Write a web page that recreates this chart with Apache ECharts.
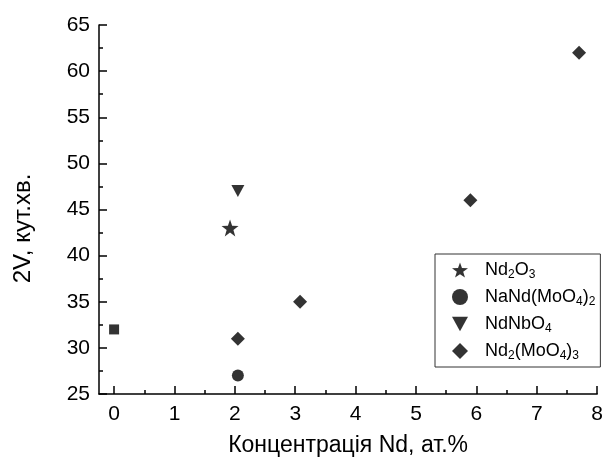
<!DOCTYPE html>
<html>
<head>
<meta charset="utf-8">
<script src="https://cdn.jsdelivr.net/npm/echarts@6/dist/echarts.min.js"></script>
<style>
  html, body { margin: 0; padding: 0; background: #fff; }
  #chart { width: 606px; height: 466px; }
</style>
</head>
<body>
<div id="chart"></div>
<script>
// точки, зчитані з рисунку: [концентрація Nd, ат.%; 2V, кут.хв.]
var pureData = [[0, 32]];
var nd2o3Data = [[1.92, 43]];
var naNdMoData = [[2.05, 27]];
var ndNbData = [[2.05, 47]];
var nd2MoData = [[2.05, 31], [3.08, 35], [5.9, 46], [7.7, 62]];

// поділки осі X (великі з підписами та малі проміжні)
var xTicks = [0, 1, 2, 3, 4, 5, 6, 7, 8];
var xMinorTicks = [0.5, 1.5, 2.5, 3.5, 4.5, 5.5, 6.5, 7.5];

var seriesNames = ['Nd2O3', 'NaNd(MoO4)2', 'NdNbO4', 'Nd2(MoO4)3'];
// підписи легенди з нижніми індексами
var legendLabels = {
  'Nd2O3': '{f|Nd}{s|2}{a|O}{s|3}',
  'NaNd(MoO4)2': '{f|NaNd(MoO}{s|4}{a|)}{s|2}',
  'NdNbO4': '{f|NdNbO}{s|4}',
  'Nd2(MoO4)3': '{f|Nd}{s|2}{a|(MoO}{s|4}{a|)}{s|3}'
};

var xMin = -0.25, xMax = 8;
var yMin = 25, yMax = 65;

var font = '"Liberation Sans", Arial, sans-serif';
var starPath = 'path://M0,-10 L2.35,-3.24 L9.51,-3.09 L3.8,1.24 L5.88,8.09 L0,4 L-5.88,8.09 L-3.8,1.24 L-9.51,-3.09 L-2.35,-3.24 Z';
var downTri = 'path://M0,0 L10,0 L5,9 Z';

var chart = echarts.init(document.getElementById('chart'));

var option = {
  backgroundColor: '#fff',
  animation: false,
  grid: { left: 99, top: 25, right: 7, bottom: 72 },
  legend: {
    data: seriesNames,
    orient: 'vertical',
    left: 435,
    top: 254,
    backgroundColor: '#fff',
    borderColor: '#333',
    borderWidth: 1,
    padding: [5, 5, 5, 17],
    itemGap: 5,
    itemWidth: 16,
    itemHeight: 16,
    formatter: function (name) { return legendLabels[name]; },
    textStyle: {
      color: '#000',
      fontFamily: font,
      rich: {
        f: { fontSize: 18, fontFamily: font, color: '#000', lineHeight: 22, padding: [0, 0, 0, 12] },
        a: { fontSize: 18, fontFamily: font, color: '#000', lineHeight: 22 },
        s: { fontSize: 12, fontFamily: font, color: '#000', lineHeight: 22, verticalAlign: 'bottom', padding: [10, 0, 0, 0] }
      }
    }
  },
  xAxis: [
    {
      type: 'value',
      min: xMin,
      max: xMax,
      name: 'Концентрація Nd, ат.%',
      nameLocation: 'middle',
      nameGap: 40,
      nameTextStyle: { fontSize: 23, fontFamily: font, color: '#000' },
      axisLine: { show: true, onZero: false, lineStyle: { color: '#000', width: 1.5 } },
      axisTick: { show: true, inside: true, length: 8, customValues: xTicks, lineStyle: { color: '#000', width: 1.5 } },
      axisLabel: { fontSize: 21, fontFamily: font, color: '#000', margin: 10, customValues: xTicks },
      splitLine: { show: false }
    },
    {
      // проміжні (малі) поділки
      type: 'value',
      position: 'bottom',
      min: xMin,
      max: xMax,
      axisLine: { show: false },
      axisTick: { show: true, inside: true, length: 4, customValues: xMinorTicks, lineStyle: { color: '#000', width: 1.5 } },
      axisLabel: { show: false },
      splitLine: { show: false }
    }
  ],
  yAxis: {
    type: 'value',
    min: yMin,
    max: yMax,
    interval: 5,
    name: '2V, кут.хв.',
    nameLocation: 'middle',
    nameGap: 64,
    nameRotate: 90,
    nameTextStyle: { fontSize: 24, fontFamily: font, color: '#000', padding: [0, 38, 0, 0] },
    axisLine: { show: true, onZero: false, lineStyle: { color: '#000', width: 1.5 } },
    axisTick: { show: true, inside: true, length: 8, lineStyle: { color: '#000', width: 1.5 } },
    minorTick: { show: true, splitNumber: 2, length: 4, lineStyle: { color: '#000', width: 1.5 } },
    axisLabel: { fontSize: 21, fontFamily: font, color: '#000', margin: 9 },
    splitLine: { show: false }
  },
  series: [
    {
      name: 'Nd',
      type: 'scatter',
      data: pureData,
      symbol: 'rect',
      symbolSize: 10,
      itemStyle: { color: '#000' }
    },
    {
      name: seriesNames[0],
      type: 'scatter',
      data: nd2o3Data,
      symbol: starPath,
      symbolSize: 17,
      itemStyle: { color: '#000' }
    },
    {
      name: seriesNames[1],
      type: 'scatter',
      data: naNdMoData,
      symbol: 'circle',
      symbolSize: 12,
      itemStyle: { color: '#000' }
    },
    {
      name: seriesNames[2],
      type: 'scatter',
      data: ndNbData,
      symbol: downTri,
      symbolSize: [13, 12],
      itemStyle: { color: '#000' }
    },
    {
      name: seriesNames[3],
      type: 'scatter',
      data: nd2MoData,
      symbol: 'diamond',
      symbolSize: 14,
      itemStyle: { color: '#000' }
    }
  ]
};

chart.setOption(option);
</script>
</body>
</html>
